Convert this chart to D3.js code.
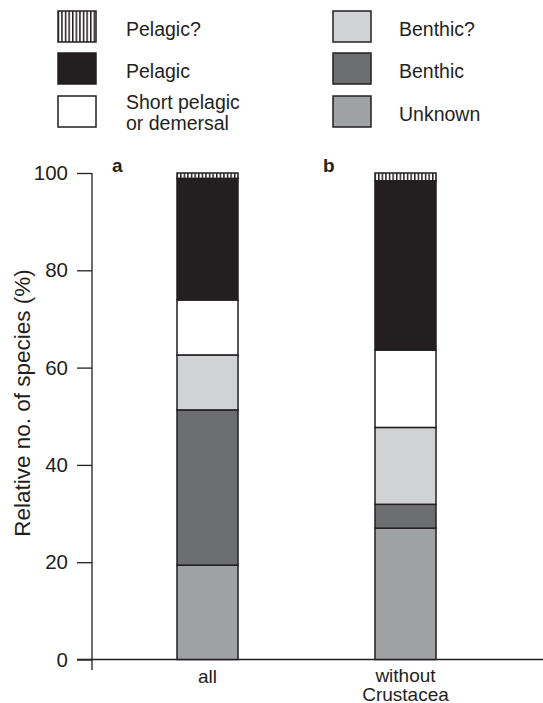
<!DOCTYPE html>
<html>
<head>
<meta charset="utf-8">
<script src="https://cdn.jsdelivr.net/npm/d3@7"></script>
<style>
  html, body { margin: 0; padding: 0; background: #fff; }
  svg { display: block; font-family: "Liberation Sans", Arial, sans-serif; }
</style>
</head>
<body>
<svg id="chart" width="543" height="703"></svg>
<script>
// data (stacked bottom -> top, percent of species)
const groups = ["all", "without Crustacea"];
const categories = ["Unknown", "Benthic", "Benthic?", "Short pelagic or demersal", "Pelagic", "Pelagic?"];
const valuesAll = [19.4, 31.9, 11.3, 11.3, 25.0, 1.1];
const valuesNoCrust = [27.0, 4.9, 15.8, 15.9, 34.8, 1.6];
const yTicks = [0, 20, 40, 60, 80, 100];

const ink = "#231f20";
const fills = {
  "Unknown": "#a0a1a3",
  "Benthic": "#6d6e70",
  "Benthic?": "#d1d2d4",
  "Short pelagic or demersal": "#ffffff",
  "Pelagic": ink,
  "Pelagic?": "url(#stripes)"
};

const svg = d3.select("#chart");

// vertical stripe pattern for "Pelagic?"
const defs = svg.append("defs");
const pat = defs.append("pattern").attr("id", "stripes")
  .attr("patternUnits", "userSpaceOnUse").attr("width", 3.6).attr("height", 10);
pat.append("rect").attr("width", 3.6).attr("height", 10).attr("fill", "#fff");
pat.append("rect").attr("x", 0).attr("width", 1.5).attr("height", 10).attr("fill", ink);

const y = d3.scaleLinear().domain([0, 100]).range([659.5, 173]);
const x = d3.scalePoint().domain(groups).range([207.5, 405.5]);
const barW = 61;

// stacked rows
const rows = groups.map((g, i) => {
  const vals = i === 0 ? valuesAll : valuesNoCrust;
  const r = { group: g };
  categories.forEach((c, j) => r[c] = vals[j]);
  return r;
});
const series = d3.stack().keys(categories)(rows);

// ---------- axes ----------
const yAxis = svg.append("g").attr("transform", "translate(92,0)")
  .call(d3.axisLeft(y).tickValues(yTicks).tickSize(15).tickPadding(9).tickSizeOuter(0));
yAxis.select(".domain").remove();
yAxis.selectAll("line").attr("stroke", ink).attr("stroke-width", 1.3);
yAxis.selectAll("text").attr("fill", ink).attr("font-size", 20.5)
  .attr("font-family", "Liberation Sans, Arial, sans-serif");
svg.append("line").attr("x1", 92).attr("x2", 92).attr("y1", 173).attr("y2", 670)
  .attr("stroke", ink).attr("stroke-width", 1.3);
svg.append("line").attr("x1", 77).attr("x2", 543).attr("y1", y(0)).attr("y2", y(0))
  .attr("stroke", ink).attr("stroke-width", 1.3);

// ---------- bars ----------
series.forEach((s) => {
  svg.append("g").selectAll("rect").data(s).join("rect")
    .attr("x", (d) => x(d.data.group) - barW / 2)
    .attr("width", barW)
    .attr("y", (d) => y(d[1]))
    .attr("height", (d) => y(d[0]) - y(d[1]))
    .attr("fill", fills[s.key])
    .attr("stroke", ink).attr("stroke-width", 1.5);
});

// panel letters
[["a", 0], ["b", 1]].forEach(([t, i]) => {
  svg.append("text").attr("x", i === 0 ? 112 : 323).attr("y", 172)
    .attr("font-size", 19).attr("font-weight", 700).attr("fill", ink).text(t);
});

// x labels
svg.append("text").attr("x", x("all")).attr("y", 683).attr("text-anchor", "middle")
  .attr("font-size", 19).attr("fill", ink).text("all");
const xl = svg.append("text").attr("x", x("without Crustacea")).attr("y", 682)
  .attr("text-anchor", "middle").attr("font-size", 19).attr("fill", ink);
xl.append("tspan").attr("x", x("without Crustacea")).text("without");
xl.append("tspan").attr("x", x("without Crustacea")).attr("dy", 18.5).text("Crustacea");

// y title
svg.append("text").attr("transform", "translate(30,403) rotate(-90)")
  .attr("text-anchor", "middle").attr("font-size", 22.5).attr("fill", ink)
  .text("Relative no. of species (%)");

// ---------- legend ----------
const legend = [
  { key: "Pelagic?", col: 0, row: 0, lines: ["Pelagic?"] },
  { key: "Pelagic", col: 0, row: 1, lines: ["Pelagic"] },
  { key: "Short pelagic or demersal", col: 0, row: 2, lines: ["Short pelagic", "or demersal"] },
  { key: "Benthic?", col: 1, row: 0, lines: ["Benthic?"] },
  { key: "Benthic", col: 1, row: 1, lines: ["Benthic"] },
  { key: "Unknown", col: 1, row: 2, lines: ["Unknown"] }
];
const colX = [58, 333], txtX = [126, 399], rowY = [11, 53, 96];
legend.forEach((d) => {
  svg.append("rect").attr("x", colX[d.col]).attr("y", rowY[d.row])
    .attr("width", 38).attr("height", 31)
    .attr("fill", fills[d.key]).attr("stroke", ink).attr("stroke-width", 1.5);
  const t = svg.append("text").attr("font-size", 19.5).attr("fill", ink);
  if (d.lines.length === 1) {
    t.append("tspan").attr("x", txtX[d.col]).attr("y", rowY[d.row] + 25).text(d.lines[0]);
  } else {
    t.append("tspan").attr("x", txtX[d.col]).attr("y", rowY[d.row] + 13).text(d.lines[0]);
    t.append("tspan").attr("x", txtX[d.col]).attr("y", rowY[d.row] + 34).text(d.lines[1]);
  }
});
</script>
</body>
</html>
